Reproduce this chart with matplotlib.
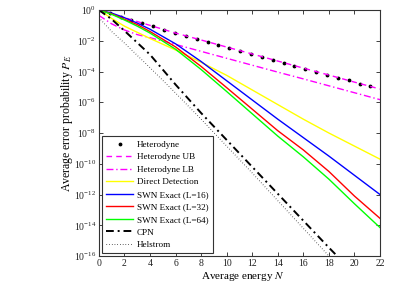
import numpy as np
import matplotlib
matplotlib.use("Agg")
import matplotlib.pyplot as plt

plt.rcParams['font.family'] = ['Liberation Serif', 'DejaVu Serif']
plt.rcParams['mathtext.fontset'] = 'stix'

# exponents (log10 of the error probability)
N_het = [0, 0.85, 1.7, 2.55, 3.4, 4.25, 5.1, 5.95, 6.8, 7.65, 8.5, 9.35, 10.2,
         11.05, 11.9, 12.75, 13.6, 14.45, 15.3, 16.15, 17.0, 17.85, 18.7,
         19.55, 20.4, 21.25]
het = [0, -0.21, -0.43, -0.64, -0.85, -1.06, -1.28, -1.49, -1.7, -1.87, -2.06,
       -2.26, -2.45, -2.64, -2.84, -3.03, -3.23, -3.42, -3.61, -3.81, -4.0,
       -4.2, -4.39, -4.58, -4.78, -4.97]

N = [0, 1, 2, 3, 4, 6, 8, 10, 12, 14, 16, 18, 20, 22]
het_ub = [0, -0.25, -0.5, -0.75, -1.0, -1.5, -1.95, -2.41, -2.86, -3.32,
          -3.78, -4.23, -4.69, -5.14]
het_lb = [-0.35, -0.9, -1.3, -1.6, -1.8, -2.24, -2.69, -3.14, -3.59, -4.04,
          -4.48, -4.93, -5.38, -5.83]
direct = [0, -0.55, -1.05, -1.45, -1.85, -2.6, -3.4, -4.25, -5.2, -6.15,
          -7.1, -8.0, -8.85, -9.7]
swn16 = [0, -0.2, -0.5, -0.85, -1.25, -2.2, -3.35, -4.6, -5.85, -7.1,
         -8.3, -9.5, -10.75, -12.0]
swn32 = [0, -0.25, -0.6, -0.95, -1.4, -2.4, -3.67, -5.05, -6.45, -7.85,
         -9.1, -10.5, -12.1, -13.55]
swn64 = [0, -0.28, -0.65, -1.05, -1.5, -2.55, -3.87, -5.3, -6.75, -8.2,
         -9.55, -11.0, -12.6, -14.15]

N_cpn = [0, 1, 2, 4, 6, 8, 10, 12, 14, 16, 18, 19]
cpn = [0, -0.6, -1.35, -2.9, -4.85, -6.7, -8.45, -10.2, -11.95, -13.7,
       -15.45, -16.3]
N_hel = [0, 1, 2, 4, 6, 8, 10, 12, 14, 16, 18, 18.5]
hel = [-0.5, -1.4, -2.15, -3.75, -5.4, -7.1, -8.85, -10.6, -12.4, -14.2,
       -16.0, -16.5]

fig = plt.figure(figsize=(4.19, 2.94), dpi=100)
ax = fig.add_axes([0.236, 0.129, 0.671, 0.837])

def p(v):
    return 10.0 ** np.array(v)

ax.plot(N_het, p(het), '.', color='k', ms=3.5, label='Heterodyne')
ax.plot(N, p(het_ub), '--', color='#ff00ff', lw=1.0, dashes=(4, 3), label='Heterodyne UB')
ax.plot(N, p(het_lb), '-.', color='#ff00ff', lw=1.0, dashes=(5, 2, 1, 2), label='Heterodyne LB')
ax.plot(N, p(direct), '-', color='#ffff00', lw=1.0, label='Direct Detection')
ax.plot(N, p(swn16), '-', color='#0000ff', lw=1.0, label='SWN Exact (L=16)')
ax.plot(N, p(swn32), '-', color='#ff0000', lw=1.0, label='SWN Exact (L=32)')
ax.plot(N, p(swn64), '-', color='#00ff00', lw=1.0, label='SWN Exact (L=64)')
ax.plot(N_cpn, p(cpn), '-.', color='k', lw=1.4, dashes=(4, 2, 1, 2), label='CPN')
ax.plot(N_hel, p(hel), ':', color='k', lw=0.7, dashes=(0.6, 2.2), label='Helstrom')

ax.set_yscale('log')
ax.set_xlim(0, 22)
ax.set_ylim(1e-16, 1)
ax.set_xticks(np.arange(0, 23, 2))
ax.set_yticks([10.0 ** -k for k in range(0, 17, 2)])
ax.yaxis.set_minor_locator(matplotlib.ticker.NullLocator())
ax.tick_params(direction='in', top=True, right=True, labelsize=7,
               length=3, width=0.6, colors='#222222', pad=2)
for s in ax.spines.values():
    s.set_linewidth(0.8)
    s.set_color('#333333')

ax.set_xlabel('Average energy $N$', fontsize=8)
ax.set_ylabel('Average error probability $P_E$', fontsize=8.5)
ax.xaxis.set_label_coords(0.512, -0.058)
ax.yaxis.set_label_coords(-0.085, 0.54)

leg = ax.legend(loc='lower left', fontsize=6.6, frameon=True, fancybox=False,
                edgecolor='#333333', framealpha=1, handlelength=3.0,
                labelspacing=0.45, borderpad=0.45, borderaxespad=0.3,
                handletextpad=0.4)
leg.get_frame().set_linewidth(0.8)

fig.savefig('out.png', dpi=100)
